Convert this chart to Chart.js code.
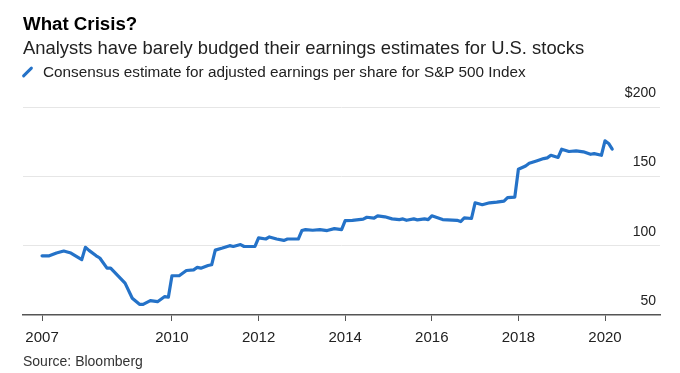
<!DOCTYPE html>
<html>
<head>
<meta charset="utf-8">
<script src="https://cdn.jsdelivr.net/npm/chart.js@4/dist/chart.umd.min.js"></script>
<style>
  body { margin: 0; background: #fff; font-family: "Liberation Sans", Arial, sans-serif; }
  #wrap { position: relative; width: 680px; height: 373px; }
  #chart { position: absolute; left: 0; top: 0; }
  .txt { position: absolute; left: 23px; white-space: nowrap; }
  #title { top: 13px; font-size: 18.7px; font-weight: bold; color: #000; }
  #subtitle { top: 36.5px; font-size: 18.4px; color: #222; }
  #legend { top: 63px; font-size: 15.3px; color: #222; }
  #legend .swatch { position: absolute; left: 3px; top: 2px; width: 3px; height: 14px; background: #2472c8; border-radius: 2px; transform: rotate(45deg); }
  #legend span.lbl { margin-left: 20px; }
  #source { top: 352.5px; font-size: 14px; color: #333; }
</style>
</head>
<body>
<div id="wrap">
  <canvas id="chart" width="680" height="373"></canvas>
  <div class="txt" id="title">What Crisis?</div>
  <div class="txt" id="subtitle">Analysts have barely budged their earnings estimates for U.S. stocks</div>
  <div class="txt" id="legend"><div class="swatch"></div><span class="lbl">Consensus estimate for adjusted earnings per share for S&amp;P 500 Index</span></div>
  <div class="txt" id="source">Source: Bloomberg</div>
</div>
<script>
const months = [
  '2007-01','2007-03','2007-05','2007-07','2007-09','2007-12',
  '2008-01','2008-02','2008-04','2008-05','2008-07','2008-08','2008-12',
  '2009-02','2009-04','2009-05','2009-07','2009-09','2009-11','2009-12',
  '2010-01','2010-03','2010-05','2010-07','2010-08','2010-09','2010-11','2010-12',
  '2011-01','2011-03','2011-05','2011-06','2011-08','2011-09','2011-12',
  '2012-01','2012-03','2012-04','2012-06','2012-08','2012-09','2012-12',
  '2013-01','2013-02','2013-04','2013-06','2013-08','2013-10','2013-12',
  '2014-01','2014-03','2014-06','2014-07','2014-09','2014-10','2014-12',
  '2015-02','2015-04','2015-05','2015-06','2015-08','2015-09','2015-11','2015-12',
  '2016-01','2016-04','2016-08','2016-09','2016-10','2016-12',
  '2017-01','2017-03','2017-05','2017-07','2017-09','2017-10','2017-12',
  '2018-01','2018-03','2018-04','2018-06','2018-08','2018-09','2018-10','2018-12',
  '2019-01','2019-03','2019-05','2019-07','2019-09','2019-10','2019-12',
  '2020-01','2020-02','2020-03'
];
const eps = [
  92.7, 92.7, 94.7, 96.1, 94.7, 89.9,
  98.8, 96.6, 92.7, 91.1, 83.8, 83.8, 73.0,
  62.1, 57.7, 57.7, 60.4, 59.6, 63.3, 62.8,
  78.3, 78.3, 82.1, 82.6, 84.3, 83.8, 85.7, 86.2,
  96.8, 98.3, 100.0, 99.4, 100.8, 99.4, 99.5,
  105.6, 104.8, 106.3, 104.8, 103.8, 104.8, 104.8,
  110.9, 111.6, 111.1, 111.6, 110.9, 112.3, 111.6,
  118.1, 118.3, 119.1, 120.5, 119.8, 121.5, 120.8,
  119.3, 118.8, 119.3, 118.3, 119.3, 118.6, 119.3, 118.8,
  121.5, 118.8, 118.3, 117.4, 120.0, 119.6,
  130.9, 129.5, 130.9, 131.4, 132.1, 134.6, 135.0,
  155.1, 157.5, 159.4, 161.1, 162.8, 163.3, 165.2, 163.6,
  169.6, 167.9, 168.3, 167.7, 165.9, 166.4, 165.2,
  175.6, 173.7, 169.6
];
const xTickYears = [2007, 2010, 2012, 2014, 2016, 2018, 2020];
const yTicks = [50, 100, 150, 200];

const blue = '#2472c8';

function toYear(m) {
  const [y, mo] = m.split('-').map(Number);
  return y + (mo - 1) / 12;
}

const points = months.map((m, i) => ({ x: toYear(m), y: eps[i] }));

new Chart(document.getElementById('chart'), {
  type: 'line',
  data: {
    datasets: [{
      data: points,
      borderColor: blue,
      borderWidth: 3.2,
      pointRadius: 0,
      tension: 0,
      borderJoinStyle: 'round',
      borderCapStyle: 'round'
    }]
  },
  options: {
    responsive: false,
    animation: false,
    layout: { padding: { top: 107, left: 23, right: 20, bottom: 18 } },
    plugins: { legend: { display: false }, tooltip: { enabled: false } },
    scales: {
      x: {
        type: 'linear',
        min: 2006.56,
        max: 2021.27,
        afterBuildTicks: scale => { scale.ticks = xTickYears.map(v => ({ value: v })); },
        grid: { drawOnChartArea: false, drawTicks: true, tickLength: 6, color: '#555', lineWidth: 1 },
        border: { display: true, color: '#555', width: 1.5 },
        ticks: {
          autoSkip: false, maxRotation: 0, padding: 8,
          color: '#222', font: { family: 'Liberation Sans', size: 15 },
          callback: v => String(v)
        }
      },
      y: {
        position: 'right',
        min: 50,
        max: 200,
        afterBuildTicks: scale => { scale.ticks = yTicks.map(v => ({ value: v })); },
        grid: {
          drawTicks: false,
          color: ctx => ctx.tick && ctx.tick.value === 50 ? 'rgba(0,0,0,0)' : '#e6e6e6',
          lineWidth: 1
        },
        border: { display: false },
        ticks: {
          mirror: true, padding: -4, labelOffset: -14,
          color: '#222', font: { family: 'Liberation Sans', size: 14 },
          callback: v => v === 200 ? '$200' : String(v)
        }
      }
    }
  }
});
</script>
</body>
</html>
